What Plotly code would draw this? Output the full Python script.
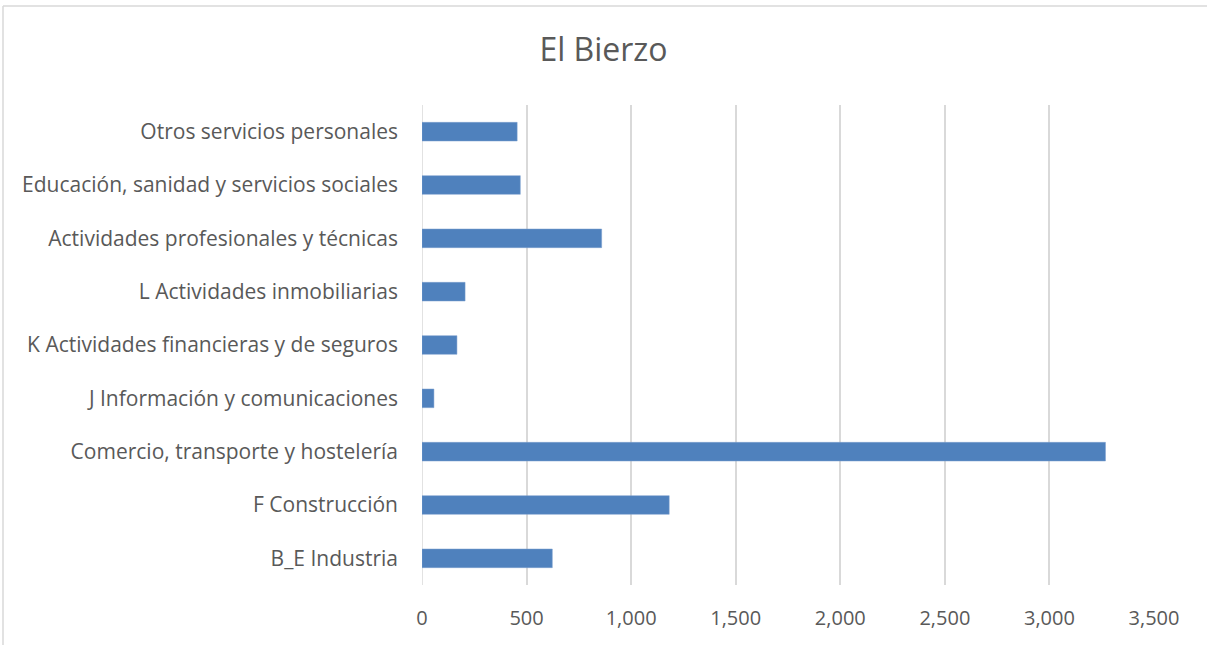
import plotly.graph_objects as go

# categories, bottom to top
categories = [
    "B_E Industria",
    "F Construcción",
    "Comercio, transporte y hostelería",
    "J Información y comunicaciones",
    "K Actividades financieras y de seguros",
    "L Actividades inmobiliarias",
    "Actividades profesionales y técnicas",
    "Educación, sanidad y servicios sociales",
    "Otros servicios personales",
]
values = [623, 1182, 3268, 57, 167, 206, 859, 470, 455]

x_ticks = [0, 500, 1000, 1500, 2000, 2500, 3000, 3500]

FONT = "Open Sans, Lato, sans-serif"

fig = go.Figure()

fig.add_trace(go.Bar(
    y=categories,
    x=values,
    orientation="h",
    marker=dict(color="#4f81bd", line=dict(color="#7a9fcf", width=0.5)),
    hoverinfo="x+y",
))

fig.update_layout(
    title=dict(
        text="El Bierzo",
        x=0.5, xanchor="center",
        y=1 - 50 / 645, yref="container", yanchor="middle",
        font=dict(family=FONT, size=32, color="#595959"),
    ),
    width=1207, height=645,
    margin=dict(l=422, r=53, t=105, b=60),
    plot_bgcolor="white",
    paper_bgcolor="white",
    bargap=0.65,
    showlegend=False,
    font=dict(family=FONT, size=21, color="#595959"),
    xaxis=dict(
        range=[0, 3500],
        tickvals=x_ticks,
        tickformat=",",
        tickfont=dict(size=20),
        showgrid=True,
        gridcolor="#d9d9d9",
        gridwidth=1.5,
        zeroline=False,
        showline=False,
        ticks="",
        ticklabelstandoff=19,
        fixedrange=True,
    ),
    yaxis=dict(
        categoryorder="array",
        categoryarray=categories,
        showgrid=False,
        zeroline=False,
        showline=False,
        ticks="",
        ticklabelstandoff=23,
        fixedrange=True,
    ),
    shapes=[
        # chart area border (top and left visible)
        dict(type="line", xref="paper", yref="paper",
             x0=(3 - 422) / 732, x1=1.2, y0=(585 - 6) / 480, y1=(585 - 6) / 480,
             line=dict(color="#d9d9d9", width=1.5)),
        dict(type="line", xref="paper", yref="paper",
             x0=(3 - 422) / 732, x1=(3 - 422) / 732, y0=(585 - 6) / 480, y1=-0.3,
             line=dict(color="#d9d9d9", width=1.5)),
        # vertical axis line at zero
        dict(type="line", xref="x", yref="paper", x0=0, x1=0, y0=0, y1=1,
             line=dict(color="#d9d9d9", width=1.5), layer="below"),
    ],
)

fig.write_html("out.html",
               config={"displayModeBar": False},
               post_script="document.body.style.margin='0';document.body.style.overflow='hidden';")
